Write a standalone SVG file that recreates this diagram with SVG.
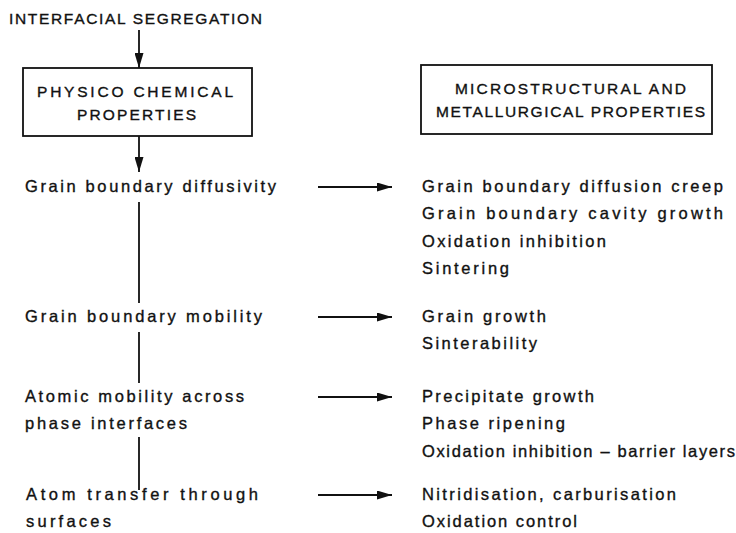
<svg xmlns="http://www.w3.org/2000/svg" width="736" height="533" viewBox="0 0 736 533">
<defs>
<style>
text{font-family:"Liberation Sans",Arial,sans-serif;font-size:16.5px;fill:#111;stroke:#111;stroke-width:0.35;}
.cap{font-size:15.5px;}
.ln{stroke:#111;stroke-width:1.8;fill:none;}
.box{stroke:#111;stroke-width:1.8;fill:#fff;}
</style>
<marker id="ah" viewBox="0 0 15 9" refX="15" refY="4.5" markerWidth="15" markerHeight="9" markerUnits="userSpaceOnUse" orient="auto">
<path d="M0,0 L15,4.5 L0,9 Z" fill="#111"/>
</marker>
</defs>
<rect width="736" height="533" fill="#fff"/>
<g id="title"><text class="cap" x="9" y="24" textLength="253" lengthAdjust="spacing">INTERFACIAL SEGREGATION</text></g>
<g id="physico">
<rect class="box" x="23" y="68" width="229" height="68"/>
<text class="cap" x="37" y="97" textLength="196" lengthAdjust="spacing">PHYSICO CHEMICAL</text>
<text class="cap" x="77" y="120" textLength="119" lengthAdjust="spacing">PROPERTIES</text>
</g>
<g id="micro">
<rect class="box" x="421" y="65" width="291" height="69"/>
<text class="cap" x="455" y="94" textLength="231" lengthAdjust="spacing">MICROSTRUCTURAL AND</text>
<text class="cap" x="436" y="117" textLength="269" lengthAdjust="spacing">METALLURGICAL PROPERTIES</text>
</g>
<g id="left">
<text x="25" y="192" textLength="251" lengthAdjust="spacing">Grain boundary diffusivity</text>
<text x="25" y="322" textLength="237" lengthAdjust="spacing">Grain boundary mobility</text>
<text x="25" y="402" textLength="219" lengthAdjust="spacing">Atomic mobility across</text>
<text x="25" y="429" textLength="162" lengthAdjust="spacing">phase interfaces</text>
<text x="26" y="500" textLength="232" lengthAdjust="spacing">Atom transfer through</text>
<text x="26" y="527" textLength="85" lengthAdjust="spacing">surfaces</text>
</g>
<g id="right">
<text x="422" y="192" textLength="301" lengthAdjust="spacing">Grain boundary diffusion creep</text>
<text x="422" y="219" textLength="301" lengthAdjust="spacing">Grain boundary cavity growth</text>
<text x="422" y="247" textLength="184" lengthAdjust="spacing">Oxidation inhibition</text>
<text x="422" y="274" textLength="87" lengthAdjust="spacing">Sintering</text>
<text x="422" y="322" textLength="124" lengthAdjust="spacing">Grain growth</text>
<text x="422" y="349" textLength="115" lengthAdjust="spacing">Sinterability</text>
<text x="422" y="402" textLength="172" lengthAdjust="spacing">Precipitate growth</text>
<text x="422" y="429" textLength="143" lengthAdjust="spacing">Phase ripening</text>
<text x="422" y="457" textLength="313" lengthAdjust="spacing">Oxidation inhibition – barrier layers</text>
<text x="422" y="500" textLength="254" lengthAdjust="spacing">Nitridisation, carburisation</text>
<text x="422" y="527" textLength="155" lengthAdjust="spacing">Oxidation control</text>
</g>
<g id="connectors">
<line class="ln" x1="139" y1="30" x2="139" y2="68" marker-end="url(#ah)"/>
<line class="ln" x1="139" y1="136" x2="139" y2="172" marker-end="url(#ah)"/>
<line class="ln" x1="139" y1="202" x2="139" y2="303"/>
<line class="ln" x1="139" y1="332" x2="139" y2="383"/>
<line class="ln" x1="139" y1="437" x2="139" y2="490"/>
<line class="ln" x1="318" y1="187" x2="392" y2="187" marker-end="url(#ah)"/>
<line class="ln" x1="318" y1="317" x2="392" y2="317" marker-end="url(#ah)"/>
<line class="ln" x1="318" y1="397" x2="392" y2="397" marker-end="url(#ah)"/>
<line class="ln" x1="318" y1="495" x2="392" y2="495" marker-end="url(#ah)"/>
</g>
</svg>
